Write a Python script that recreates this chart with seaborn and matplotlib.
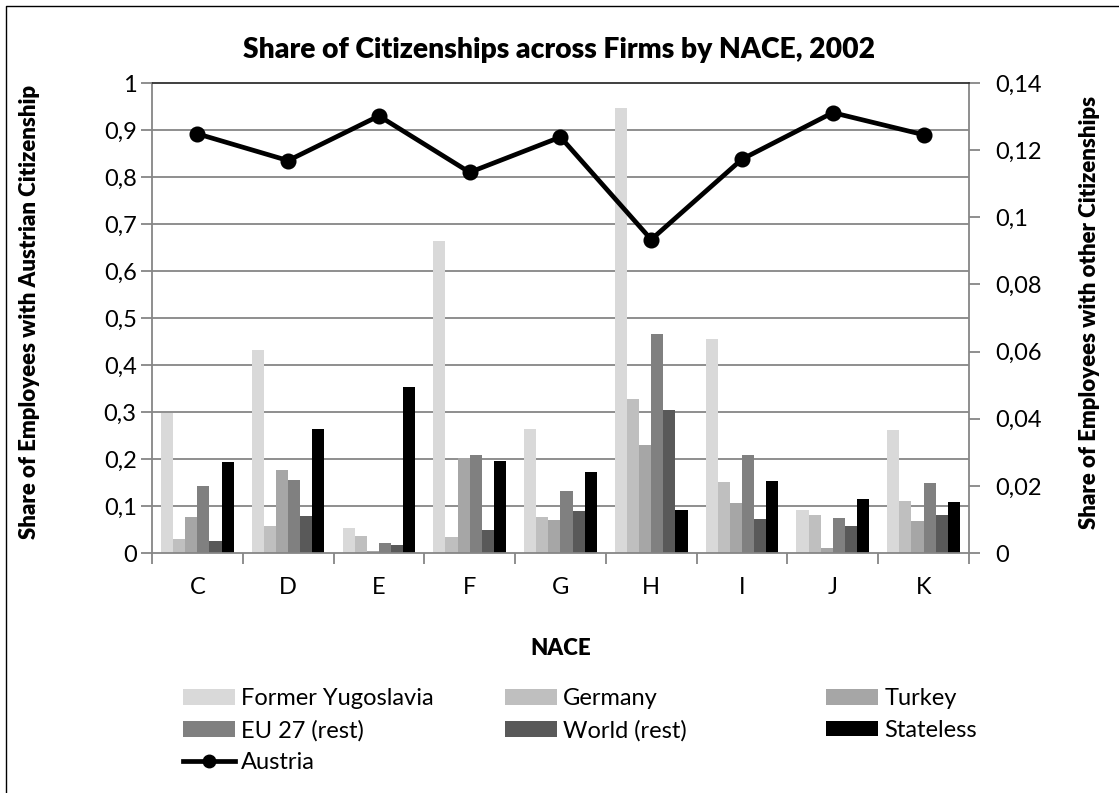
import numpy as np
import pandas as pd
import matplotlib
matplotlib.use("Agg")
import matplotlib.pyplot as plt
from matplotlib.lines import Line2D
from matplotlib.ticker import FuncFormatter
import seaborn as sns

nace = ["C", "D", "E", "F", "G", "H", "I", "J", "K"]
series = ["Former Yugoslavia", "Germany", "Turkey", "EU 27 (rest)", "World (rest)", "Stateless"]

# shares on the right axis
yugoslavia = [0.0417, 0.0605, 0.0076, 0.0928, 0.0368, 0.1327, 0.0637, 0.0129, 0.0367]
germany = [0.0041, 0.0080, 0.0052, 0.0049, 0.0108, 0.0459, 0.0212, 0.0113, 0.0155]
turkey = [0.0108, 0.0248, 0.0006, 0.0282, 0.0097, 0.0321, 0.0150, 0.0015, 0.0094]
eu27 = [0.0199, 0.0217, 0.0029, 0.0293, 0.0186, 0.0652, 0.0293, 0.0105, 0.0209]
world = [0.0036, 0.0111, 0.0024, 0.0069, 0.0124, 0.0425, 0.0101, 0.0080, 0.0113]
stateless = [0.0270, 0.0368, 0.0496, 0.0274, 0.0240, 0.0127, 0.0214, 0.0161, 0.0153]

# share on the left axis
austria = [0.892, 0.835, 0.930, 0.810, 0.885, 0.667, 0.838, 0.937, 0.890]

greys = ["#d9d9d9", "#bfbfbf", "#a6a6a6", "#808080", "#595959", "#000000"]
gridgrey = "#868686"

plt.rcParams["font.family"] = ["Lato", "DejaVu Sans"]

rows = []
for name, vals in zip(series, [yugoslavia, germany, turkey, eu27, world, stateless]):
    for n, v in zip(nace, vals):
        rows.append({"NACE": n, "Citizenship": name, "Share": v})
df = pd.DataFrame(rows)

fig = plt.figure(figsize=(11.19, 7.93), dpi=100)
ax = fig.add_axes([0.1358, 0.3026, 0.7301, 0.5927])
ax2 = ax.twinx()

sns.barplot(data=df, x="NACE", y="Share", hue="Citizenship", order=nace,
            hue_order=series, palette=greys, saturation=1, width=0.8,
            linewidth=0, errorbar=None, ax=ax)
bar_handles, bar_labels = ax.get_legend_handles_labels()
ax.get_legend().remove()

sns.pointplot(x=nace, y=austria, color="black", markers="o", markersize=9,
              linewidth=3.4, errorbar=None, ax=ax2)

def comma(v, pos):
    return "{:g}".format(round(v, 2)).replace(".", ",")

# right axis: bars
ax.set_ylim(0, 0.14)
ax.yaxis.tick_right()
ax.yaxis.set_label_position("right")
ax.set_yticks(np.arange(0, 0.141, 0.02))
ax.yaxis.set_major_formatter(FuncFormatter(comma))
ax.set_yticks(np.linspace(0, 0.14, 11), minor=True)
ax.yaxis.grid(True, which="minor", color=gridgrey, lw=1.3)
ax.yaxis.grid(False, which="major")
ax.xaxis.grid(False)
ax.set_axisbelow(True)
ax.tick_params(axis="y", which="major", length=8, width=1.3, color=gridgrey,
               labelsize=17, pad=11, right=True, left=False)
ax.tick_params(axis="y", which="minor", length=0)

# left axis: Austria
ax2.set_ylim(0, 1)
ax2.yaxis.tick_left()
ax2.yaxis.set_label_position("left")
ax2.set_yticks(np.linspace(0, 1, 11))
ax2.yaxis.set_major_formatter(FuncFormatter(comma))
ax2.tick_params(axis="y", length=8, width=1.3, color=gridgrey, labelsize=17, pad=3)

# x axis
ax.set_xlim(-0.5, len(nace) - 0.5)
ax.set_xticks(range(len(nace)))
ax.set_xticklabels(nace)
ax.set_xticks(np.arange(-0.5, len(nace), 1), minor=True)
ax.tick_params(axis="x", which="major", length=0, labelsize=17, pad=17)
ax.tick_params(axis="x", which="minor", length=8, width=1.3, color=gridgrey)

for s in ["left", "right", "bottom"]:
    ax.spines[s].set_color(gridgrey)
    ax.spines[s].set_linewidth(1.3)
ax.spines["top"].set_color("#303030")
ax.spines["top"].set_linewidth(1.3)
for s in ax2.spines.values():
    s.set_visible(False)

ax.set_xlabel("NACE", fontsize=16, fontweight="heavy", va="center")
ax.xaxis.set_label_coords(0.5, (553 - 648) / 470)
ax2.set_ylabel("Share of Employees with Austrian Citizenship", fontsize=16,
               fontweight="heavy", va="center", rotation=90)
ax2.yaxis.set_label_coords((30 - 152) / 817, (553 - 312) / 470)
ax.set_ylabel("Share of Employees with other Citizenships", fontsize=16,
              fontweight="heavy", va="center", rotation=90)
ax.yaxis.set_label_coords((1090 - 152) / 817, (553 - 312) / 470)

fig.text(0.5, 1 - 50 / 793, "Share of Citizenships across Firms by NACE, 2002",
         ha="center", va="center", fontsize=20.3, fontweight="heavy")

# legend, three columns filled row by row
austria_handle = Line2D([], [], color="black", lw=3.4, marker="o", markersize=9)
columns = [
    ([bar_handles[0], bar_handles[3], austria_handle], [series[0], series[3], "Austria"]),
    ([bar_handles[1], bar_handles[4]], [series[1], series[4]]),
    ([bar_handles[2], bar_handles[5]], [series[2], series[5]]),
]
for xpos, (h, l) in zip([183, 505, 826], columns):
    fig.legend(h, l, loc="upper left", bbox_to_anchor=(xpos / 1119, 1 - 688 / 793),
               frameon=False, fontsize=17, handlelength=2.2, handleheight=0.65,
               handletextpad=0.27, labelspacing=0.46, borderpad=0, borderaxespad=0)

# chart frame: only the left and top edges are visible in the source image
fig.add_artist(Line2D([6 / 1119, 6 / 1119, 1], [0, 1 - 6 / 793, 1 - 6 / 793],
                      transform=fig.transFigure, color="black", lw=1))

fig.savefig("out.png", dpi=100)
